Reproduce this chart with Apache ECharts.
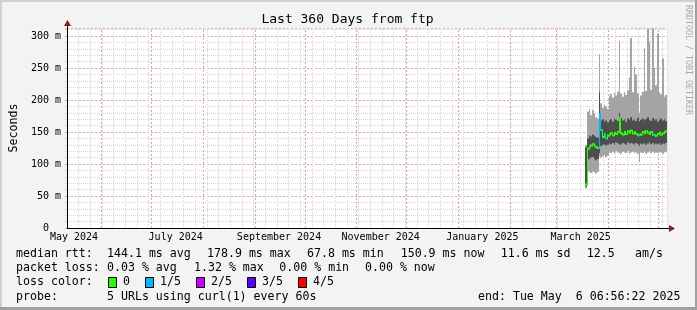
<!DOCTYPE html>
<html><head><meta charset="utf-8">
<script src="https://cdn.jsdelivr.net/npm/echarts@6/dist/echarts.min.js"></script>
<style>html,body{margin:0;padding:0;background:#f3f3f3}#c{width:697px;height:310px}</style>
</head><body><div id="c"></div>
<script>
// ---- time frame ----
const END_TS = Date.UTC(2025, 4, 6, 6, 56, 22);
const SPAN_DAYS = 360;
const START_TS = END_TS - SPAN_DAYS * 86400000;
const DAY = 86400000;
const toDay = ts => (ts - START_TS) / DAY;

// ---- data (ms), one column per day, first column = day 311 of the window ----
const firstDay = 311;
const maxV = [130, 182,186,176,184,179,173,171, 272, 195,188,192,190,186,
  206,209,204,211,207,213,292,210,205,212,208,215,235,297,212,252,240,210,180,207,213,281,214,311,291,216,312,250,223,304,212,209,265,205,208];
const q3V = [126, 140,145,143,146,144,142,141, 212, 168,170,166,168,165,
  168,170,166,171,169,167,180,172,168,170,166,171,169,173,168,170,167,172,166,169,171,168,170,173,169,167,172,168,170,166,169,171,168,170,167];
const medV = [68, 124,127,129,131,128,126,125, 178, 153,142,146,140,144,
  146,148,145,149,147,150,172,148,146,150,147,151,149,152,148,150,147,145,146,146,150,148,151,149,147,150,146,145,144,147,149,146,148,150,151];
const q1V = [65, 108,107,110,111,108,106,108, 117, 128,130,131,129,130,
  132,131,133,130,134,132,130,131,133,132,130,134,131,133,132,130,133,131,128,132,131,133,130,132,134,131,133,130,132,131,133,130,132,131,133];
const minV = [62, 89,87,86,88,87,85,88, 112, 110,112,114,111,113,
  118,117,119,116,120,118,117,116,119,118,117,120,116,118,119,117,118,116,103,118,117,119,116,118,120,117,119,116,118,117,119,118,116,118,119];
const lossV = [0, 0,0,0,0,0,0,0, 1, 1,0,0,1,0,
  0,0,0,0,0,0,0,0,0,0,0,0,0,0,0,0,0,0,1,0,0,0,0,0,0,0,0,1,0,0,0,0,0,0,0];

// ---- axis ticks ----
const monthLines = [[2024,5],[2024,6],[2024,7],[2024,8],[2024,9],[2024,10],[2024,11],[2025,0],[2025,1],[2025,2],[2025,3],[2025,4]];
const tickLabels = ['May 2024','July 2024','September 2024','November 2024','January 2025','March 2025'];
const tickLabelMonths = [[2024,4],[2024,6],[2024,8],[2024,10],[2025,0],[2025,2]];
const yMax = 312.5, yStep = 50;

const lossColors = ['#26ff00','#00b8ff','#ce00ff','#5e00ff','#ff0000'];
const lossNames = ['0','1/5','2/5','3/5','4/5'];

const rows = maxV.map((v, i) => [firstDay + i, minV[i], q1V[i], medV[i], q3V[i], maxV[i], lossV[i]]);
const monthDays = monthLines.map(([y, m]) => toDay(Date.UTC(y, m, 1)));
const labelDays = tickLabelMonths.map(([y, m]) => toDay(Date.UTC(y, m, 15, 12)));

const FONT = 'DejaVu Sans Mono';
const chart = echarts.init(document.getElementById('c'), null, {renderer: 'canvas'});

function renderSmoke(params, api) {
  const d = api.value(0);
  const a = api.coord([d, api.value(1)]);
  const b = api.coord([d + 1, api.value(2)]);
  const c = api.coord([d, api.value(4)]);
  const e = api.coord([d, api.value(5)]);
  const x0 = Math.round(a[0]), x1 = Math.round(b[0]);
  return {type: 'group', children: [
    {type: 'rect', shape: {x: x0, y: e[1], width: x1 - x0, height: a[1] - e[1]}, style: {fill: '#a4a4a4'}},
    {type: 'rect', shape: {x: x0, y: c[1], width: x1 - x0, height: b[1] - c[1]}, style: {fill: '#4e4e4e'}}
  ]};
}
function renderMedian(params, api) {
  const i = params.dataIndex;
  const d = api.value(0);
  const p = api.coord([d, api.value(3)]);
  const q = api.coord([d + 1, api.value(3)]);
  const x0 = Math.round(p[0]), x1 = Math.round(q[0]);
  const col = lossColors[api.value(6)];
  const ch = [{type: 'rect', shape: {x: x0, y: p[1] - 1, width: x1 - x0, height: 2}, style: {fill: col}}];
  if (i > 0) {
    const pp = api.coord([d, medV[i - 1]]);
    const top = Math.min(pp[1], p[1]) - 1, h = Math.abs(pp[1] - p[1]) + 2;
    ch.push({type: 'rect', shape: {x: x0, y: top, width: 1, height: h}, style: {fill: col}});
  }
  return {type: 'group', children: ch};
}

const txt = (x, y, s, extra) => Object.assign({type: 'text', x: x, y: y, style: {text: s, font: '11.6px ' + FONT, fill: '#000', textVerticalAlign: 'middle'}}, extra || {});
const legend = [
  [16,254,'median rtt:'],[107,254,'144.1 ms avg'],[207,254,'178.9 ms max'],[300,254,' 67.8 ms min'],[400.7,254,'150.9 ms now'],[500.7,254,'11.6 ms sd'],[586.7,254,'12.5'],[635,254,'am/s'],
  [16,268.3,'packet loss:'],[107,268.3,'0.03 % avg'],[194,268.3,'1.32 % max'],[279.3,268.3,'0.00 % min'],[365,268.3,'0.00 % now'],
  [16,282.3,'loss color:'],
  [16,296.7,'probe:'],[107,296.7,'5 URLs using curl(1) every 60s'],[478,296.7,'end: Tue May  6 06:56:22 2025']
];
const boxX = [108,145,196,247,298], boxLabelX = [123,160,211,262,313];
const graphics = [
  {type: 'rect', shape: {x: 0, y: 0, width: 697, height: 2}, style: {fill: '#d0d0d0'}, silent: true},
  {type: 'rect', shape: {x: 0, y: 0, width: 2, height: 310}, style: {fill: '#d0d0d0'}, silent: true},
  {type: 'rect', shape: {x: 0, y: 307, width: 697, height: 3}, style: {fill: '#a0a0a0'}, silent: true},
  {type: 'rect', shape: {x: 695, y: 0, width: 2, height: 310}, style: {fill: '#a0a0a0'}, silent: true},
  {type: 'text', x: 347.5, y: 20, style: {text: 'Last 360 Days from ftp', font: '13px ' + FONT, fill: '#000', textAlign: 'center', textVerticalAlign: 'middle'}},
  {type: 'text', x: 688, y: 5, rotation: -Math.PI / 2, style: {text: 'RRDTOOL / TOBI OETIKER', font: '8.3px ' + FONT, fill: '#aaaaaa', textAlign: 'left', textVerticalAlign: 'middle'}},
  // axis extensions and arrows
  {type: 'line', shape: {x1: 667, y1: 228.5, x2: 670, y2: 228.5}, style: {stroke: '#000', lineWidth: 1}, z: 10},
  {type: 'polygon', shape: {points: [[669, 225], [675, 228.5], [669, 232]]}, style: {fill: '#8b1a1a'}, z: 10},
  {type: 'line', shape: {x1: 67.5, y1: 28, x2: 67.5, y2: 25}, style: {stroke: '#000', lineWidth: 1}, z: 10},
  {type: 'polygon', shape: {points: [[64, 26], [67.5, 20], [71, 26]]}, style: {fill: '#8b1a1a'}, z: 10}
];
legend.forEach(l => graphics.push(txt(l[0], l[1], l[2])));
boxX.forEach((x, i) => {
  graphics.push({type: 'rect', shape: {x: x + 0.5, y: 277.5, width: 8, height: 10}, style: {fill: lossColors[i], stroke: '#000', lineWidth: 1}});
  graphics.push(txt(boxLabelX[i], 282.3, lossNames[i]));
});

chart.setOption({
  animation: false,
  backgroundColor: '#f3f3f3',
  grid: {left: 67, right: 30, top: 28, bottom: 82, containLabel: false, outerBoundsMode: 'none',
    show: true, backgroundColor: '#ffffff', borderWidth: 0},
  xAxis: [{
    type: 'value', min: 0, max: SPAN_DAYS, interval: 7,
    axisLine: {show: true, onZero: false, lineStyle: {color: '#000', width: 1}},
    axisTick: {show: false}, axisLabel: {show: false},
    splitLine: {show: true, lineStyle: {color: '#d6d6d6', type: [1, 1], width: 1}}
  }, {
    type: 'value', min: 0, max: SPAN_DAYS, position: 'bottom',
    axisLine: {show: false}, axisTick: {show: false}, splitLine: {show: false},
    axisLabel: {show: true, customValues: labelDays, margin: 4, fontFamily: FONT, fontSize: 10, color: '#000',
      formatter: v => { let bi = 0; labelDays.forEach((d, i) => { if (Math.abs(d - v) < Math.abs(labelDays[bi] - v)) bi = i; }); return tickLabels[bi]; }}
  }],
  yAxis: {
    type: 'value', min: 0, max: yMax, interval: yStep,
    name: 'Seconds', nameLocation: 'middle', nameGap: 47, nameRotate: 90,
    nameTextStyle: {fontFamily: FONT, fontSize: 11.6, color: '#000'},
    axisLine: {show: true, lineStyle: {color: '#000', width: 1}},
    axisTick: {show: true, length: 2, lineStyle: {color: '#f2a0a0'}},
    minorTick: {show: true, splitNumber: 5, length: 2, lineStyle: {color: '#d6d6d6'}},
    axisLabel: {fontFamily: FONT, fontSize: 10, color: '#000', margin: 6, showMaxLabel: false,
      formatter: v => v === 0 ? '0  ' : v + ' m'},
    splitLine: {show: true, lineStyle: {color: '#f2a0a0', type: [2, 2], width: 1}},
    minorSplitLine: {show: true, lineStyle: {color: '#d6d6d6', type: [1, 1], width: 1}}
  },
  series: [{
    type: 'line', data: [], z: 1, silent: true,
    markLine: {silent: true, symbol: ['none', 'none'], label: {show: false}, animation: false,
      lineStyle: {color: '#f2a0a0', type: [2, 2], width: 1},
      data: monthDays.map(d => ({xAxis: d}))}
  }, {
    type: 'custom', renderItem: renderSmoke, data: rows, z: 5, clip: true, silent: true,
    encode: {x: 0, y: [1, 5]}
  }, {
    type: 'custom', renderItem: renderMedian, data: rows, z: 6, clip: true, silent: true,
    encode: {x: 0, y: 3}
  }],
  graphic: graphics
});
</script></body></html>
